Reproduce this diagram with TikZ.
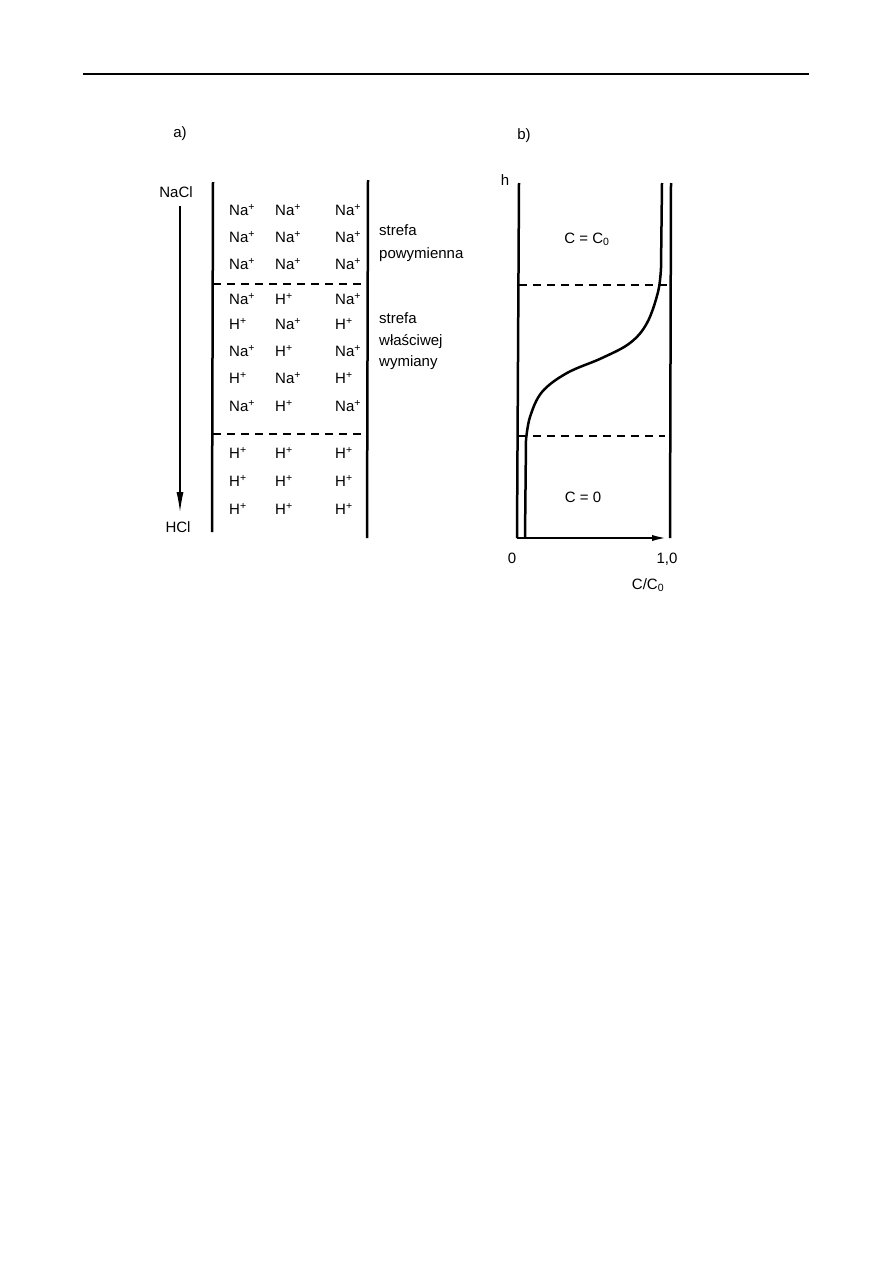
\documentclass[tikz,border=0pt]{standalone}
\usepackage{fontspec}
\setmainfont{Liberation Sans}
\usepackage{tikz}
\usetikzlibrary{arrows.meta, positioning}

\tikzset{
  tekst/.style={inner sep=0pt, text height=12pt, text depth=1.3pt,
    font=\fontsize{15}{17}\selectfont},
  jon/.style={tekst, anchor=west},
  opis/.style={tekst, anchor=west},
  kolumna/.style={line width=2.5pt},
  granica/.style={dash pattern=on 8pt off 6pt, line width=1.2pt},
}

\begin{document}
\begin{tikzpicture}[x=1pt, y=-1pt]
    \useasboundingbox (0,0) rectangle (893,1263);
    % linia u gory strony
    \draw[line width=1.5pt] (83,74) -- (809,74);

    % a) kolumna jonitu
    \node[tekst] (etA) at (180,132) {a)};
    \node[tekst] (nacl) at (176,192) {NaCl};
    \node[tekst] (hcl) at (178,527) {HCl};
    \draw[line width=1.2pt, -{Latex[length=20pt, width=7pt]}]
        ([xshift=4pt, yshift=-7pt]nacl.south) -- ([xshift=2pt, yshift=8pt]hcl.north);

    \draw[kolumna] (213,182) -- (212,532);
    \draw[kolumna] (368,180) -- (367,538);
    \draw[granica] (213,284) -- (367,284);
    \draw[granica] (213,434) -- (367,434);

    % jony w kolejnych warstwach
    \foreach \a/\b/\c/\y [count=\i] in {Na/Na/Na/210, Na/Na/Na/237, Na/Na/Na/264,
        Na/H/Na/299, H/Na/H/324, Na/H/Na/351, H/Na/H/378, Na/H/Na/406,
        H/H/H/453, H/H/H/481, H/H/H/509} {
        \node[jon] (jon-\i-1) at (229,\y) {\a\textsuperscript{+}};
        \node[jon] (jon-\i-2) at (275,\y) {\b\textsuperscript{+}};
        \node[jon] (jon-\i-3) at (335,\y) {\c\textsuperscript{+}};
    }

    % opisy stref
    \node[opis] (s1) at (379,230) {strefa};
    \node[opis] (s2) at (379,253) {powymienna};
    \node[opis] (s3) at (379,318) {strefa};
    \node[opis] (s4) at (379,340) {właściwej};
    \node[opis] (s5) at (379,361) {wymiany};

    % b) rozklad stezenia
    \node[tekst] (etB) at (524,134) {b)};
    \node[tekst] (h) at (505,180) {h};
    \draw[kolumna] (519,183) -- (517,538);
    \draw[kolumna] (671,183) -- (670,538);
    \draw[kolumna, -{Latex[length=17pt, width=6pt]}] (517,538) -- (669,538);
    \draw[granica] (519,285) -- (671,285);
    \draw[granica] (519,436) -- (665,436);

    % krzywa C/C0
    \draw[kolumna] (662,183) -- (661,268)
        -- plot[smooth, tension=0.6] coordinates {(661,268) (658,292) (647,323) (630,343)
            (602,358) (567,373) (542,392) (530,417) (526,440)}
        -- (525,538);

    \node[tekst] (c1) at (587,238) {C = C\textsubscript{0}};
    \node[tekst] (c2) at (583,497) {C = 0};
    \node[tekst] (x0) at (512,558) {0};
    \node[tekst] (x1) at (667,558) {1,0};
    \node[tekst] (xl) at (648,584) {C/C\textsubscript{0}};
\end{tikzpicture}
\end{document}
